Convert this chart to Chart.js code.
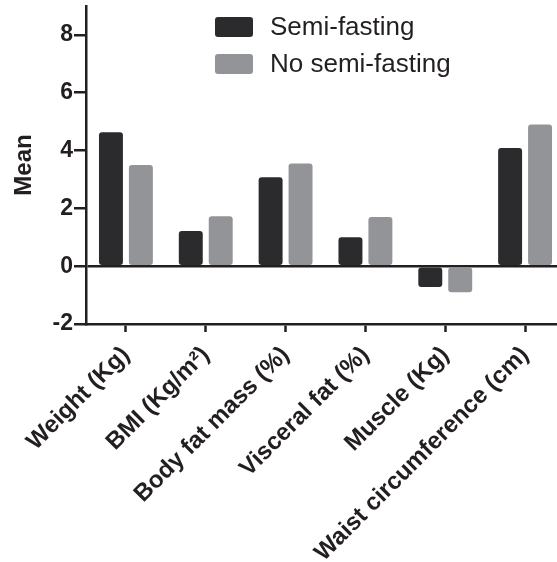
<!DOCTYPE html>
<html>
<head>
<meta charset="utf-8">
<script src="https://cdn.jsdelivr.net/npm/chart.js@4"></script>
<style>
  html, body { margin: 0; padding: 0; background: #fff; overflow: hidden; }
  #wrap { width: 580px; height: 562px; }
</style>
</head>
<body>
<div id="wrap"><canvas id="c" width="580" height="562"></canvas></div>
<script>
const categories = ["Weight (Kg)", "BMI (Kg/m\u00B2)", "Body fat mass (%)", "Visceral fat (%)", "Muscle (Kg)", "Waist circumference (cm)"];
const seriesNames = ["Semi-fasting", "No semi-fasting"];
const semiFasting = [4.63, 1.22, 3.08, 1.00, -0.72, 4.09];
const noSemiFasting = [3.50, 1.73, 3.55, 1.70, -0.90, 4.90];
const yTicks = [-2, 0, 2, 4, 6, 8];

const DARK = "#2b2a2c";
const GRAY = "#939497";
const AXIS = "#231f20";
const FONT = "'Liberation Sans', Arial, Helvetica, sans-serif";

const legendPlugin = {
  id: 'insideLegend',
  afterDraw(chart) {
    const ctx = chart.ctx;
    ctx.save();
    const x0 = 215, y0 = 17, boxW = 38, boxH = 20, rowH = 37;
    chart.data.datasets.forEach((ds, i) => {
      const y = y0 + i * rowH;
      ctx.fillStyle = ds.backgroundColor;
      ctx.beginPath();
      ctx.roundRect(x0, y, boxW, boxH, 3);
      ctx.fill();
      ctx.fillStyle = "#231f20";
      ctx.font = "26px " + FONT;
      ctx.textBaseline = "middle";
      ctx.textAlign = "left";
      ctx.fillText(ds.label, x0 + 55, y + boxH / 2 + 1);
    });
    ctx.restore();
  }
};

new Chart(document.getElementById('c'), {
  type: 'bar',
  data: {
    labels: categories,
    datasets: [
      { label: seriesNames[0], data: semiFasting, backgroundColor: DARK, borderRadius: 3, borderSkipped: false },
      { label: seriesNames[1], data: noSemiFasting, backgroundColor: GRAY, borderRadius: 3, borderSkipped: false }
    ]
  },
  options: {
    responsive: false,
    animation: false,
    devicePixelRatio: 1,
    categoryPercentage: 0.75,
    barPercentage: 0.8,
    layout: { padding: { top: 6, right: 15, left: 0, bottom: 0 } },
    plugins: { legend: { display: false }, tooltip: { enabled: false } },
    scales: {
      x: {
        offset: true,
        grid: { drawOnChartArea: false, drawTicks: true, tickLength: 8, tickWidth: 2.5, tickColor: AXIS, offset: false },
        border: { display: true, color: AXIS, width: 2.5 },
        ticks: {
          color: AXIS, autoSkip: false, maxRotation: 45, minRotation: 45,
          font: { family: FONT, size: 24, weight: 'bold' }, padding: 9
        },
        afterFit(scale) { scale.height = 238; }
      },
      y: {
        min: -2, max: 9,
        afterBuildTicks(scale) { scale.ticks = yTicks.map(v => ({ value: v })); },
        grid: {
          drawOnChartArea: true,
          color: (c) => (c.tick && c.tick.value === 0 ? AXIS : 'rgba(0,0,0,0)'),
          lineWidth: 2.5,
          tickColor: AXIS, tickLength: 12, tickWidth: 2.5
        },
        border: { display: true, color: AXIS, width: 2.5 },
        ticks: { color: AXIS, font: { family: FONT, size: 23, weight: 'bold', lineHeight: 0.4 }, padding: 1 },
        title: { display: true, text: 'Mean', color: AXIS, font: { family: FONT, size: 24, weight: 'bold' }, padding: { top: 10, bottom: 0 } },
        afterFit(scale) { scale.width = 86; }
      }
    }
  },
  plugins: [legendPlugin]
});
</script>
</body>
</html>
